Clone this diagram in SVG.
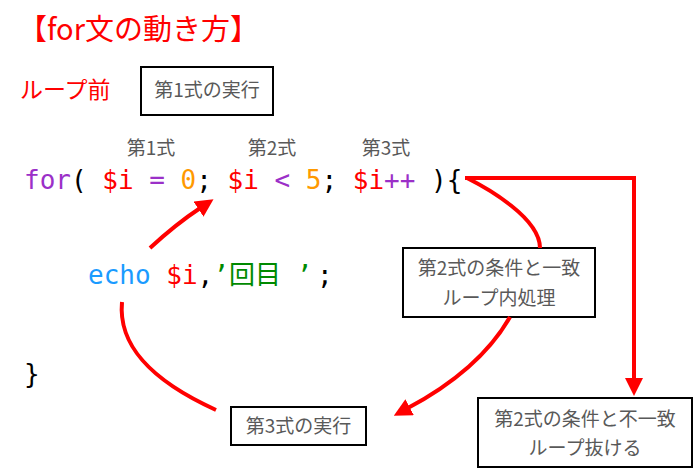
<svg xmlns="http://www.w3.org/2000/svg" width="694" height="470" viewBox="0 0 694 470">
<style>
.jp{font-family:"Noto Sans CJK JP","Noto Sans",sans-serif;}
.box rect{fill:#fff;stroke:#000;stroke-width:2;}
.box text{font-family:"Noto Sans CJK JP","Noto Sans",sans-serif;font-size:19px;fill:#595959;text-anchor:middle;}
.lbl{font-family:"Noto Sans CJK JP","Noto Sans",sans-serif;font-size:19px;fill:#595959;text-anchor:middle;}
.code{font-family:"DejaVu Sans Mono","Noto Sans CJK JP",monospace;font-size:26px;fill:#000;}
.kw{fill:#9b30c8;}
.var{fill:#ff0000;}
.num{fill:#ff9900;}
.fn{fill:#1a9bff;}
.str{fill:#008a00;}
.conn path{fill:none;stroke:#ff0000;stroke-width:4;}
</style>
<defs>
<marker id="ah" markerUnits="userSpaceOnUse" markerWidth="18" markerHeight="18" viewBox="0 0 18 18" refX="3" refY="9" orient="auto">
<path d="M0,0 L18,9 L0,18 z" fill="#ff0000"/>
</marker>
</defs>
<rect width="694" height="470" fill="#fff"/>
<text class="jp" x="18" y="40" font-size="29" fill="#ff0000">【for文の動き方】</text>
<text class="jp" x="20" y="98" font-size="23" fill="#ff0000">ループ前</text>
<g id="box-step1" class="box">
<rect x="141" y="67" width="132" height="48"/>
<text x="207" y="97">第1式の実行</text>
</g>
<g id="labels">
<text class="lbl" x="151" y="155">第1式</text>
<text class="lbl" x="272" y="155">第2式</text>
<text class="lbl" x="386" y="155">第3式</text>
</g>
<g id="code">
<text class="code" x="24" y="189" xml:space="preserve"><tspan class="kw">for</tspan>( <tspan class="var">$i</tspan> <tspan class="kw">=</tspan> <tspan class="num">0</tspan>; <tspan class="var">$i</tspan> <tspan class="kw">&lt;</tspan> <tspan class="num">5</tspan>; <tspan class="var">$i</tspan><tspan class="kw">++</tspan> ){</text>
<text class="code" x="88" y="284" xml:space="preserve"><tspan class="fn">echo</tspan> <tspan class="var">$i</tspan>,<tspan class="str">’回目 ’</tspan><tspan x="317">;</tspan></text>
<text class="code" x="24" y="383">}</text>
</g>
<g id="box-cond-true" class="box">
<rect x="403" y="248" width="192" height="69"/>
<text x="499" y="275">第2式の条件と一致</text>
<text x="499" y="305">ループ内処理</text>
</g>
<g id="box-cond-false" class="box">
<rect x="478" y="398" width="214" height="69"/>
<text x="585" y="426">第2式の条件と不一致</text>
<text x="585" y="455">ループ抜ける</text>
</g>
<g id="box-step3" class="box">
<rect x="231" y="407" width="135" height="38"/>
<text x="298.5" y="433">第3式の実行</text>
</g>
<g id="connectors" class="conn">
<path d="M150,248 Q176,224 201,207.5" marker-end="url(#ah)"/>
<path d="M122,302 C118,345 150,380 216,410"/>
<path d="M467,178 C487,188 540,218 540,248"/>
<path d="M510,317 C490,352 455,383 407,408.6" marker-end="url(#ah)"/>
<path d="M465,178 H634 V381" marker-end="url(#ah)"/>
</g>
</svg>
